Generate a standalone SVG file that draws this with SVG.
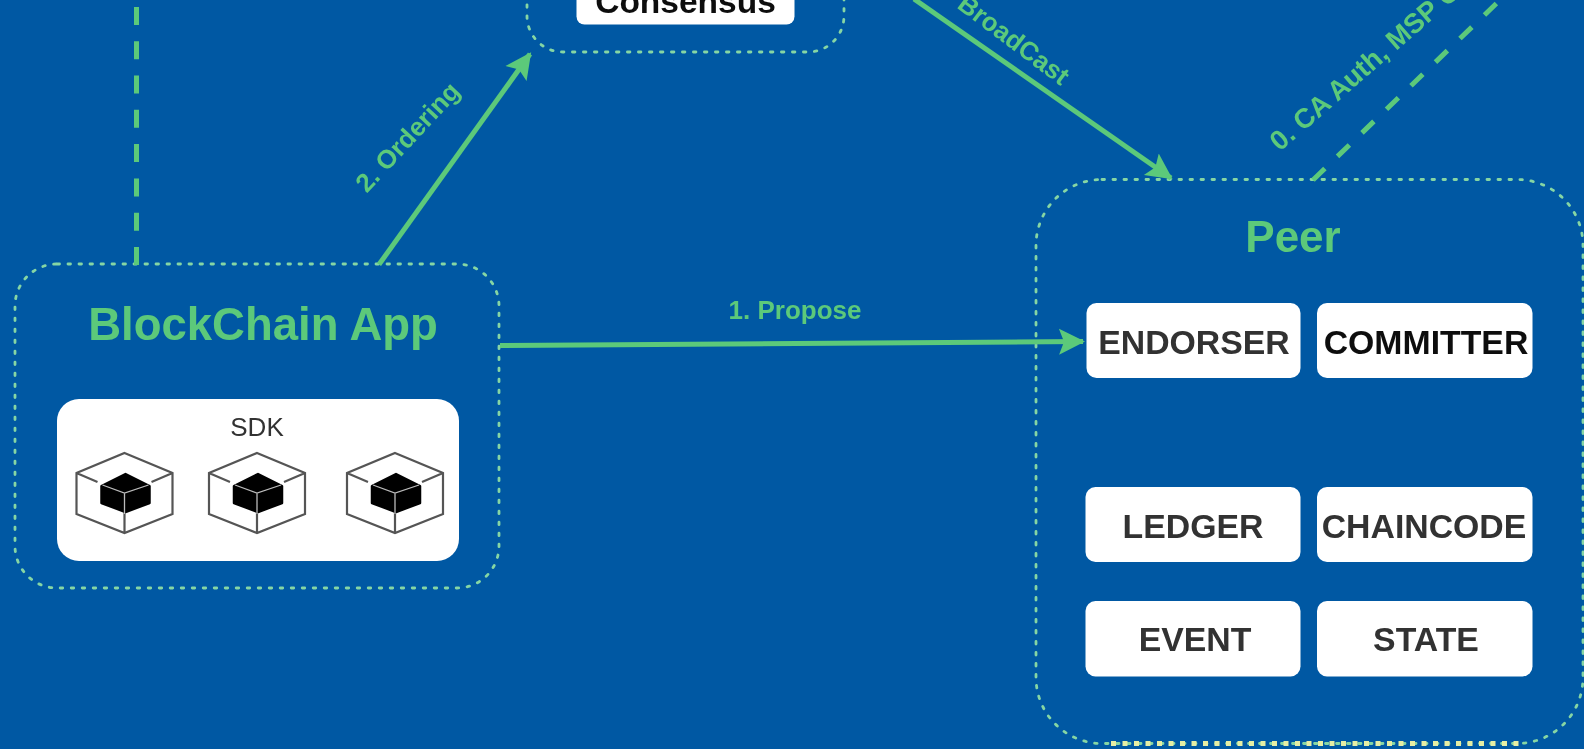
<svg xmlns="http://www.w3.org/2000/svg" width="1584" height="749" viewBox="0 0 1584 749">
<style>
text{font-family:"Liberation Sans",Arial,sans-serif;font-weight:700;text-anchor:middle}
.dot{fill:none;stroke:#86d6a4;stroke-width:2.8;stroke-dasharray:2.500 8.500;stroke-linecap:round}
.title{fill:#5cc97a;font-size:44px}
.lab{fill:#5cc97a;font-size:26px}
.box{fill:#fff}
.btxt{fill:#333;font-size:33.800px}
.conn{fill:none;stroke:#5cc97a;stroke-width:5}
.cube{fill:none;stroke:#555;stroke-width:2.200}
</style>
<defs>
<marker id="arrow" markerUnits="userSpaceOnUse" markerWidth="30" markerHeight="30" refX="24" refY="15" orient="auto">
<path d="M0 2L26 15L0 28L5 15Z" fill="#5cc97a"/>
</marker>
<filter id="soft" filterUnits="userSpaceOnUse" x="-10" y="-110" width="1610" height="870"><feGaussianBlur stdDeviation="0.7"/></filter>
<g id="cubeIcon">
<path class="cube" d="M0 453L48 473V514L0 533L-48 514V473ZM-48 473L-27 482M48 473L27 482M0 533V512"/>
<path d="M1 474L25 486V503L1 512L-23 503V486Z" fill="#000" stroke="#000" stroke-width="2.500" stroke-linejoin="round"/>
<path d="M-22 485L0 493L24 485M0 493V514" fill="none" stroke="#bbb" stroke-width="1.300"/>
</g>
</defs>
<rect width="1584" height="749" fill="#0058a3"/>
<g filter="url(#soft)">
<g id="consensus">
<rect class="dot" x="527" y="-100" width="317" height="152" rx="36"/>
<rect class="box" x="576.500" y="-40" width="218" height="64.500" rx="8"/>
<text x="685.500" y="12.500" font-size="33.500" fill="#111">Consensus</text>
</g>
<g id="app">
<rect class="dot" x="15" y="264" width="484" height="324" rx="42"/>
<text class="title" x="263" y="340" style="font-size:45.500px">BlockChain App</text>
<rect class="box" x="57" y="399" width="402" height="162" rx="22"/>
<text x="257" y="436" font-size="26" fill="#333" style="font-weight:400">SDK</text>
<use href="#cubeIcon" x="124.500"/>
<use href="#cubeIcon" x="257"/>
<use href="#cubeIcon" x="395"/>
</g>
<g id="peer">
<rect class="dot" x="1036" y="179.500" width="547" height="564" rx="66"/>
<path d="M1111 743.500H1522" fill="none" stroke="#e6eea4" stroke-width="5" stroke-dasharray="5 6.500"/>
<text class="title" x="1293" y="252">Peer</text>
<rect class="box" x="1086.500" y="303" width="214" height="75" rx="10"/>
<text class="btxt" x="1194" y="354">ENDORSER</text>
<rect class="box" x="1317" y="303" width="215.500" height="75" rx="10"/>
<text class="btxt" x="1426" y="354" style="fill:#111">COMMITTER</text>
<rect class="box" x="1085.500" y="487" width="215" height="75" rx="10"/>
<text class="btxt" x="1193" y="538">LEDGER</text>
<rect class="box" x="1317" y="487" width="215.500" height="75" rx="10"/>
<text class="btxt" x="1424" y="538">CHAINCODE</text>
<rect class="box" x="1085.500" y="601" width="215" height="75.500" rx="10"/>
<text class="btxt" x="1195" y="651">EVENT</text>
<rect class="box" x="1317" y="601" width="215.500" height="75.500" rx="10"/>
<text class="btxt" x="1426" y="651">STATE</text>
</g>
<g id="connectors">
<path class="conn" d="M500 345.500L1083 341.500" marker-end="url(#arrow)"/>
<path class="conn" d="M379 264.500L530 54" marker-end="url(#arrow)"/>
<path class="conn" d="M914 -1L1171 178" marker-end="url(#arrow)"/>
<path class="conn" d="M136.500 265V0" stroke-dasharray="18 16.300"/>
<path class="conn" d="M1313 180L1500 0" stroke-dasharray="16.500 17.500"/>
<text class="lab" x="795" y="319">1. Propose</text>
<text class="lab" transform="translate(414 143) rotate(-47)" x="0" y="0">2. Ordering</text>
<text class="lab" transform="translate(1058 84) rotate(37)" x="-62" y="0">BroadCast</text>
<text class="lab" transform="translate(1280 152) rotate(-41)" x="120" y="0" style="font-size:27.500px">0. CA Auth, MSP C</text>
</g>
</g>
</svg>
